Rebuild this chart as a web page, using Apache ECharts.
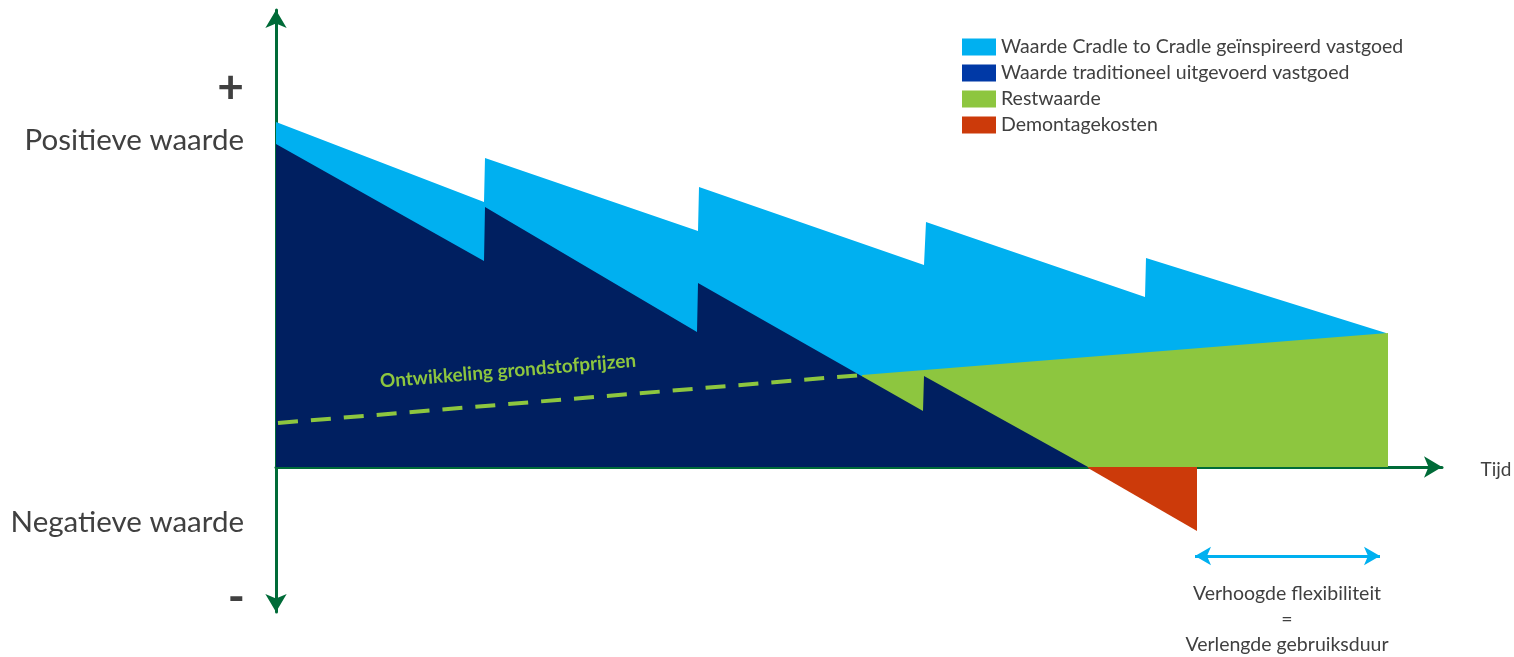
<!DOCTYPE html>
<html>
<head>
<meta charset="utf-8">
<script src="https://cdn.jsdelivr.net/npm/echarts@6/dist/echarts.min.js"></script>
<style>html,body{margin:0;padding:0;background:#fff}#c{width:1514px;height:657px}</style>
</head>
<body>
<div id="c"></div>
<script>
// Series names (legend)
const seriesNames = ['Waarde Cradle to Cradle geïnspireerd vastgoed','Waarde traditioneel uitgevoerd vastgoed','Restwaarde','Demontagekosten'];
// [time, value] points
const c2cValue = [[0,345],[208,265],[209,309],[422,236],[423,280],[648,202],[650,245],[869,170],[870,209],[1110,134]];
const tradValue = [[0,323],[208,206],[209,260],[421,135],[422,184],[647,56],[648,91],[812,0]];
const restValue = [[586,92],[1112,134]];
const demontageValue = [[812,-1],[921,-64]];
const grondstofTrend = [[2,44],[586,92]];
const flexSpan = [[919,-89],[1104,-89]];

const FONT = 'Lato';
const TXT = '#404040';

const chart = echarts.init(document.getElementById('c'), null, {renderer:'canvas'});
const areaSeries = (name, data, fill, z) => ({
  name, type:'line', data, symbol:'none', showSymbol:false, z,
  lineStyle:{width:0, color:fill}, itemStyle:{color:fill},
  areaStyle:{color:fill, opacity:1, origin:0}, silent:true
});
chart.setOption({
  animation:false,
  grid:{left:276, top:10, width:1166, height:602},
  xAxis:{type:'value', min:0, max:1166, splitLine:{show:false}, axisTick:{show:false}, axisLabel:{show:false},
    axisLine:{onZero:true, lineStyle:{color:'#006B38', width:3}, symbol:['none','arrow'], symbolSize:[16,18]}},
  yAxis:{type:'value', min:-145, max:457, splitLine:{show:false}, axisTick:{show:false}, axisLabel:{show:false},
    axisLine:{onZero:true, lineStyle:{color:'#006B38', width:3}, symbol:['arrow','arrow'], symbolSize:[16,18]}},
  legend:{orient:'vertical', left:957, top:32, itemWidth:34, itemHeight:17, itemGap:6, icon:'rect',
    textStyle:{fontFamily:FONT, fontSize:19.5, color:TXT, lineHeight:17},
    data:[
      {name:seriesNames[0], itemStyle:{color:'#00B0F0'}},
      {name:seriesNames[1], itemStyle:{color:'#0039A6'}},
      {name:seriesNames[2], itemStyle:{color:'#8DC63F'}},
      {name:seriesNames[3], itemStyle:{color:'#CC3A0A'}}
    ], selectedMode:false},
  series:[
    areaSeries(seriesNames[0], c2cValue, '#00B0F0', 1),
    areaSeries(seriesNames[2], restValue, '#8DC63F', 2),
    areaSeries(seriesNames[1], tradValue, '#001F60', 3),
    areaSeries(seriesNames[3], demontageValue, '#CC3A0A', 4),
    {name:'Ontwikkeling grondstofprijzen', type:'line', data:grondstofTrend, symbol:'none', z:5, silent:true,
      lineStyle:{color:'#8DC63F', width:4, type:[20,13]},
      markLine:{silent:true, symbol:['arrow','arrow'], symbolSize:[14,16], label:{show:false},
        lineStyle:{color:'#00B0F0', width:3, type:'solid'},
        data:[[{coord:flexSpan[0]},{coord:flexSpan[1]}]]}}
  ],
  graphic:[
    {type:'text', x:244, y:88, style:{text:'+', fontFamily:FONT, fontSize:46, fontWeight:'bold', fill:TXT, align:'right', verticalAlign:'middle'}},
    {type:'text', x:244, y:140, style:{text:'Positieve waarde', fontFamily:FONT, fontSize:29.5, fill:TXT, align:'right', verticalAlign:'middle'}},
    {type:'text', x:244, y:522, style:{text:'Negatieve waarde', fontFamily:FONT, fontSize:29.5, fill:TXT, align:'right', verticalAlign:'middle'}},
    {type:'text', x:245, y:598, style:{text:'-', fontFamily:FONT, fontSize:46, fontWeight:'bold', fill:TXT, align:'right', verticalAlign:'middle'}},
    {type:'text', x:1496, y:470, style:{text:'Tijd', fontFamily:FONT, fontSize:19, fill:TXT, align:'center', verticalAlign:'middle'}},
    {type:'text', x:1287, y:594, style:{text:'Verhoogde flexibiliteit', fontFamily:FONT, fontSize:19.5, fill:TXT, align:'center', verticalAlign:'middle'}},
    {type:'text', x:1287, y:620, style:{text:'=', fontFamily:FONT, fontSize:19.5, fill:TXT, align:'center', verticalAlign:'middle'}},
    {type:'text', x:1287, y:645, style:{text:'Verlengde gebruiksduur', fontFamily:FONT, fontSize:19.5, fill:TXT, align:'center', verticalAlign:'middle'}},
    {type:'text', x:508, y:371, rotation:0.082, z:10, style:{text:'Ontwikkeling grondstofprijzen', fontFamily:FONT, fontSize:19, fontWeight:'bold', fill:'#8DC63F', align:'center', verticalAlign:'middle'}}
  ]
});
</script>
</body>
</html>
